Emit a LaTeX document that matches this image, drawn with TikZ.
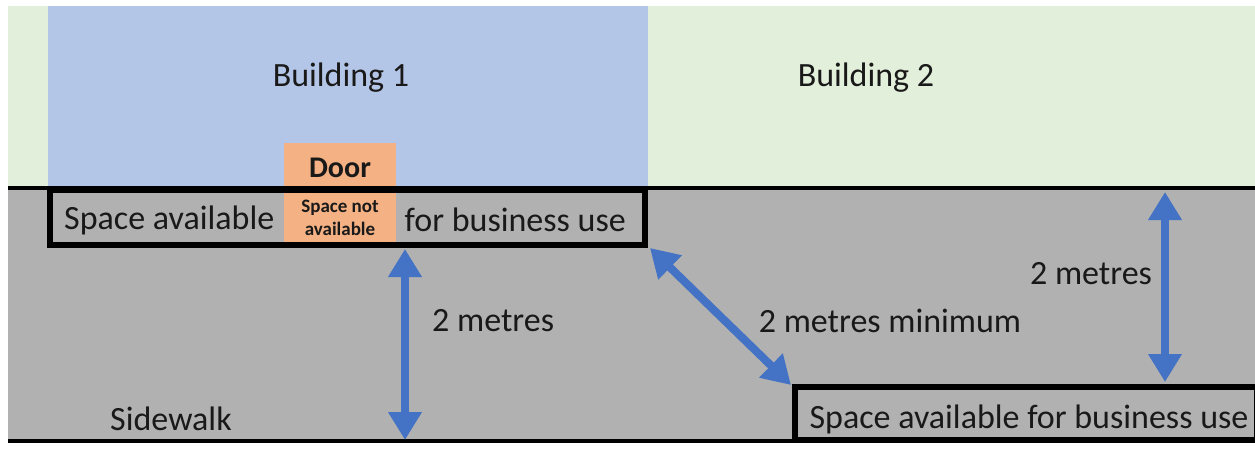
\documentclass[tikz,border=0pt]{standalone}
\usepackage{fontspec}
\setmainfont{Carlito}
\usetikzlibrary{arrows.meta,positioning}
\definecolor{bldgone}{HTML}{B4C6E7}
\definecolor{bldgtwo}{HTML}{E2EFDA}
\definecolor{walk}{HTML}{B1B1B1}
\definecolor{doorfill}{HTML}{F4B183}
\definecolor{dimblue}{HTML}{4472C4}

\begin{document}
\begin{tikzpicture}[
  x=1pt, y=-1pt,
  every node/.style={font=\fontsize{34}{40}\selectfont, text=black!90, inner sep=0pt},
  small/.style={font=\bfseries\fontsize{19}{23}\selectfont, align=center},
  usebox/.style={draw=black, line width=5.5pt},
  dimarrow/.style={draw=dimblue, line width=8pt,
    {Triangle[length=28pt,width=32pt]}-{Triangle[length=28pt,width=32pt]}}
]
  \useasboundingbox (0,0) rectangle (1255,449);
  \fill[white] (0,0) rectangle (1255,449);
  % buildings and sidewalk
  \fill[bldgtwo] (8,6) rectangle (1255,188);
  \fill[bldgone] (48,6) rectangle (648,188);
  \fill[walk] (8,188) rectangle (1255,442);
  \fill[doorfill] (284,143) rectangle (396,243);
  \draw[line width=3.5pt] (8,188) -- (1255,188);
  \draw[line width=3.5pt] (8,441) -- (795,441);
  % business use areas
  \draw[usebox] (50,190) rectangle (645,245);
  \draw[usebox] (795,387) rectangle (1257,440);

  \node (b1)   at (341,78) {Building 1};
  \node (b2)   at (866,78) {Building 2};
  \node[font=\bfseries\fontsize{30}{36}\selectfont] (door) at (340,168) {Door};
  \node[small] (notav) at (340,218) {Space not\\available};
  \node[anchor=west] (avl) at (64,220) {Space available};
  \node[anchor=east] (bus) at (626,220) {for business use};
  \node (walklbl) at (171,419) {Sidewalk};
  \node (avr)  at (1029,419) {Space available for business use};
  \node[anchor=west] (m1) at (432,321) {2 metres};
  \node (m2)   at (890,321) {2 metres minimum};
  \node (m3)   at (1091,274) {2 metres};

  % dimension arrows
  \coordinate (a1s) at (405,249);
  \coordinate (a1e) at (405,440);
  \coordinate (a2s) at (650,248);
  \coordinate (a2e) at (791,385);
  \coordinate (a3s) at (1165,192);
  \coordinate (a3e) at (1165,382);
  \draw[dimarrow] (a1s) -- (a1e);
  \draw[dimarrow] (a2s) -- (a2e);
  \draw[dimarrow] (a3s) -- (a3e);
\end{tikzpicture}
\end{document}
